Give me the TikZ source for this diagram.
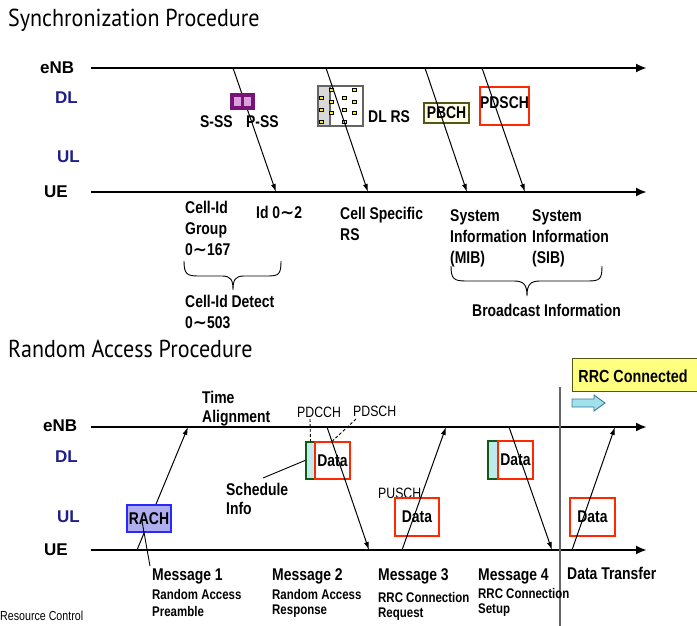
\documentclass[tikz,border=0pt]{standalone}
\usepackage{fontspec}
\setmainfont{Liberation Sans}
\newfontfamily\nar[FakeStretch=0.82]{Liberation Sans}
\newfontfamily\ttlfont[FakeStretch=0.9]{PT Sans}
\newfontfamily\dv{DejaVu Sans}
\newcommand\tld{{\dv\bfseries\char"223C}}
\usetikzlibrary{arrows.meta}
\definecolor{navy}{RGB}{31,31,140}
\definecolor{redb}{RGB}{255,40,0}
\definecolor{oliveb}{RGB}{85,85,20}
\definecolor{purpb}{RGB}{120,20,120}
\definecolor{pinkf}{RGB}{220,160,220}
\definecolor{grayb}{RGB}{100,100,100}
\definecolor{blueb}{RGB}{40,40,255}
\definecolor{bluef}{RGB}{175,175,240}
\definecolor{greenb}{RGB}{20,90,20}
\definecolor{cyanf}{RGB}{190,235,235}
\definecolor{yellowf}{RGB}{255,255,128}
\definecolor{arrf}{RGB}{160,225,235}
\definecolor{arrb}{RGB}{60,120,150}
\begin{document}
\begin{tikzpicture}[x=1pt,y=-1pt,
  title/.style={font=\ttlfont\fontsize{24.5}{28}\selectfont, inner sep=0, anchor=base west},
  side/.style={font=\bfseries\fontsize{17}{20}\selectfont, inner sep=0, anchor=west},
  sidec/.style={side, text=navy},
  lbl/.style={font=\nar\bfseries\fontsize{17}{21}\selectfont, inner sep=0, anchor=north west, align=left},
  lblw/.style={lbl, anchor=west},
  sublbl/.style={font=\nar\bfseries\fontsize{14}{17}\selectfont, inner sep=0, anchor=west},
  thin/.style={font=\nar\fontsize{15}{17}\selectfont, inner sep=0, anchor=west},
  axisline/.style={line width=2.6pt, -{Latex[length=11pt,width=9pt]}},
  msg/.style={line width=1pt, -{Latex[length=8pt,width=5pt]}},
  leader/.style={line width=0.9pt},
  brace/.style={line width=0.9pt},
  boxtxt/.style={font=\nar\bfseries\fontsize{17}{18}\selectfont},
  dbox/.style={draw=redb, line width=2.2pt, fill=white, inner sep=0, boxtxt},
  gstrip/.style={draw=greenb, line width=2pt, fill=cyanf, inner sep=0},
  ydot/.style={draw=black, line width=0.5pt, fill=yellow, minimum size=3.5pt, inner sep=0}
]
\useasboundingbox (0,0) rectangle (697,626);

% ---------- titles
\node[title] (t1) at (8,27) {Synchronization Procedure};
\node[title] (t2) at (8,357) {Random Access Procedure};

% ---------- Synchronization section
\node[side] (enb1) at (40,68) {eNB};
\node[sidec] (dl1) at (55,98) {DL};
\node[sidec] (ul1) at (57,157) {UL};
\node[side] (ue1) at (44,192) {UE};
\coordinate (e1s) at (91,68);  \coordinate (e1e) at (647,68);
\coordinate (u1s) at (91,192); \coordinate (u1e) at (647,192);
\draw[axisline] (e1s) -- (e1e);
\draw[axisline] (u1s) -- (u1e);

% arrows eNB -> UE
\coordinate (s1a) at (233,68);  \coordinate (s1b) at (276,192);
\coordinate (s2a) at (326,68);  \coordinate (s2b) at (368,192);
\coordinate (s3a) at (425,68);  \coordinate (s3b) at (467,192);
\coordinate (s4a) at (482,68);  \coordinate (s4b) at (525,192);
\draw[msg] (s1a) -- (s1b);

% S-SS / P-SS box
\node[draw=purpb, line width=1.8pt, fill=purpb, minimum width=23, minimum height=15, inner sep=0] (ssbox) at (242.5,101.5) {};
\node[fill=pinkf, minimum width=7, minimum height=9, inner sep=0] (sss) at (237.5,101.5) {};
\node[fill=pinkf, minimum width=7, minimum height=9, inner sep=0] (pss) at (247.5,101.5) {};
\node[lblw] (lsss) at (200,122) {S-SS};
\node[lblw] (lpss) at (246,122) {P-SS};

% DL RS box
\node[draw=grayb, line width=2.2pt, fill=white, minimum width=45, minimum height=40, inner sep=0] (rsbox) at (340.5,106) {};
\fill[black!15] (319.2,87.2) rectangle (330,124.8);
\draw[grayb, line width=1.2pt] (330,87) -- (330,125);
\foreach \p/\q in {321/98,321/110,321/122,331/90,331/102,331/113,344/98,344/110,344/122,354/90,354/102,354/113}
  \node[ydot] at (\p,\q) {};
\node[lblw] (ldlrs) at (368,117) {DL RS};

% PBCH box
\node[draw=oliveb, line width=2.5pt, fill=yellow!8, minimum width=45, minimum height=20, inner sep=0,
  boxtxt] (pbch) at (446.5,113) {PBCH};
% PDSCH box
\node[draw=redb, line width=2.5pt, fill=white, minimum width=49, minimum height=38, inner sep=0] (pdschbox) at (504.5,106) {};
\node[boxtxt, inner sep=0] (pdschtxt) at (504.5,103) {PDSCH};

\draw[msg] (s2a) -- (s2b);
\draw[msg] (s3a) -- (s3b);
\draw[msg] (s4a) -- (s4b);

% labels below UE
\node[lbl] (cig) at (185,201) {Cell-Id\\Group\\0\tld167};
\node[lbl] (id02) at (256,206) {Id 0\tld2};
\node[lbl] (csrs) at (340,207) {Cell Specific\\RS};
\node[lbl] (mib) at (450,209) {System\\Information\\(MIB)};
\node[lbl] (sib) at (532,209) {System\\Information\\(SIB)};
\node[lbl] (cidd) at (185,295) {Cell-Id Detect\\0\tld503};
\node[lblw] (bcast) at (472,310) {Broadcast Information};

\draw[brace] (184,261) .. controls (184,274) and (187,276) .. (198,276) -- (222,276)
  .. controls (231,276) and (233,280) .. (233,290)
  .. controls (233,280) and (235,276) .. (244,276) -- (268,276)
  .. controls (279,276) and (281,274) .. (281,261);
\draw[brace] (451,266) .. controls (451,279) and (454,281) .. (466,281) -- (514,281)
  .. controls (524,281) and (527,285) .. (527,296)
  .. controls (527,285) and (530,281) .. (540,281) -- (588,281)
  .. controls (600,281) and (602,279) .. (602,266);

% ---------- Random Access section
\node[side] (enb2) at (43,426) {eNB};
\node[sidec] (dl2) at (55,457) {DL};
\node[sidec] (ul2) at (57,517) {UL};
\node[side] (ue2) at (44,550) {UE};
\coordinate (e2s) at (91,427);  \coordinate (e2e) at (647,427);
\coordinate (u2s) at (91,550); \coordinate (u2e) at (647,550);
\draw[axisline] (e2s) -- (e2e);
\draw[axisline] (u2s) -- (u2e);

% RRC connected
\coordinate (vtop) at (560,387); \coordinate (vbot) at (560,626);
\draw[black!60, line width=1.1pt] (vtop) -- (vbot);
\node[draw=oliveb, line width=1.2pt, fill=yellowf, minimum width=130, minimum height=33, inner sep=0,
  anchor=north west] (rrcbox) at (572,358) {};
\node[font=\nar\bfseries\fontsize{17.5}{18}\selectfont, inner sep=0] (rrctxt) at (633,376) {RRC Connected};
\draw[draw=arrb, fill=arrf, line width=0.9pt] (572,399) -- (594,399) -- (594,395) -- (605,403)
  -- (594,411) -- (594,407) -- (572,407) -- cycle;

% message 1
\coordinate (m1a) at (137,550); \coordinate (m1b) at (188,427);
\draw[msg] (m1a) -- (m1b);
\node[draw=blueb, line width=2.5pt, fill=bluef, minimum width=44, minimum height=27, inner sep=0,
  boxtxt] (rach) at (149,518.5) {RACH};
\coordinate (rachl) at (142,521); \coordinate (m1l) at (150,566);
\draw[leader] (rachl) -- (m1l);
\node[lbl] (tal) at (202,391) {Time\\[-2pt]Alignment};

% message 2
\node[gstrip, minimum width=9, minimum height=37] (g1) at (310.5,460.5) {};
\node[dbox, minimum width=35, minimum height=37] (d1) at (332.5,460.5) {Data};
\node[thin] (pdcch) at (297,412) {PDCCH};
\node[thin] (pdsch2) at (353,411) {PDSCH};
\coordinate (pdcchl) at (310,419); \coordinate (pdschl) at (356,419);
\draw[leader, dashed, dash pattern=on 3pt off 2pt] (pdcchl) -- (g1.north);
\draw[leader, dashed, dash pattern=on 3pt off 2pt] (pdschl) -- (d1.north);
\coordinate (schl) at (263,478);
\draw[leader] (g1.west) -- (schl);
\node[lbl] (sched) at (226,483) {Schedule\\[-2pt]Info};
\coordinate (m2a) at (327,427); \coordinate (m2b) at (369,550);
\draw[msg] (m2a) -- (m2b);

% message 3
\node[thin] (pusch) at (378,493) {PUSCH};
\node[dbox, minimum width=44, minimum height=38] (d2) at (417,517) {Data};
\coordinate (m3a) at (402,550); \coordinate (m3b) at (446,427);
\draw[msg] (m3a) -- (m3b);

% message 4
\node[gstrip, minimum width=10, minimum height=38] (g2) at (493,460) {};
\node[dbox, minimum width=35, minimum height=38] (d3) at (515.5,460) {Data};
\coordinate (m4a) at (509,427); \coordinate (m4b) at (552,550);
\draw[msg] (m4a) -- (m4b);

% data transfer
\node[dbox, minimum width=45, minimum height=38] (d4) at (592.5,517) {Data};
\coordinate (m5a) at (572,550); \coordinate (m5b) at (615,427);
\draw[msg] (m5a) -- (m5b);

% bottom labels
\node[lblw] (msg1) at (152,576) {Message 1};
\node[sublbl] (msg1a) at (152,594) {Random Access};
\node[sublbl] (msg1b) at (152,611) {Preamble};
\node[lblw] (msg2) at (272,576) {Message 2};
\node[sublbl] (msg2a) at (272,594) {Random Access};
\node[sublbl] (msg2b) at (272,611) {Response};
\node[lblw] (msg3) at (378,576) {Message 3};
\node[sublbl] (msg3a) at (378,597) {RRC Connection};
\node[sublbl] (msg3b) at (378,614) {Request};
\node[lblw] (msg4) at (478,576) {Message 4};
\node[sublbl] (msg4a) at (478,593) {RRC Connection};
\node[sublbl] (msg4b) at (478,610) {Setup};
\node[lblw] (dtr) at (567,573) {Data Transfer};
\node[font=\nar\fontsize{13}{14}\selectfont, inner sep=0, anchor=west] (resc) at (0,616) {Resource Control};
\end{tikzpicture}
\end{document}
